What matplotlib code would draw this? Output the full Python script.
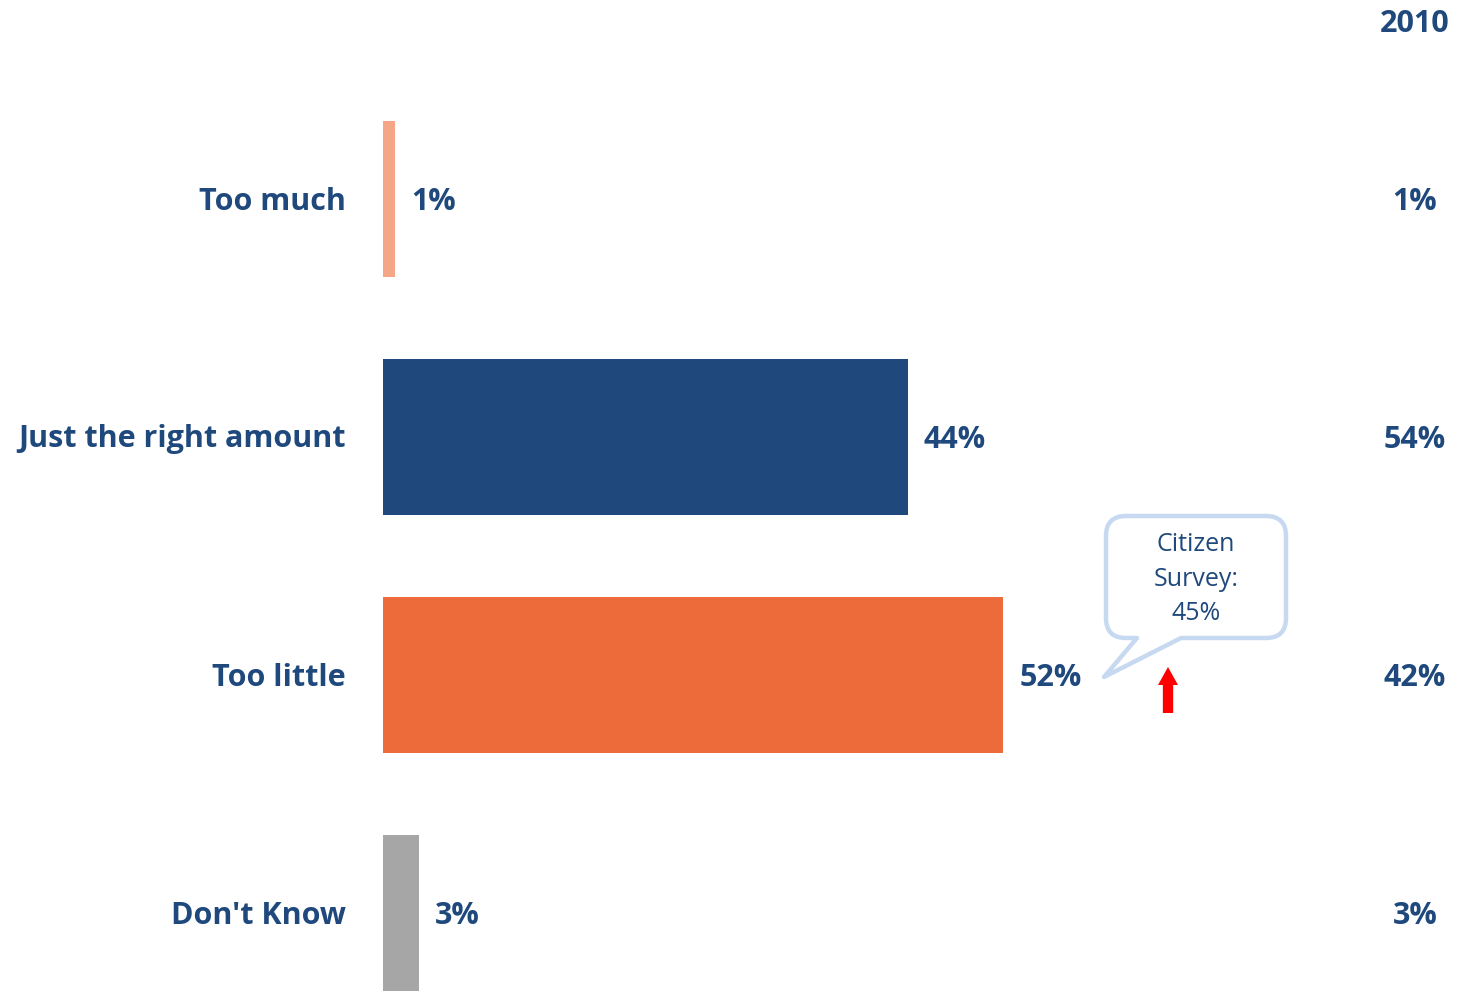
import numpy as np
import matplotlib.pyplot as plt
from matplotlib.path import Path
from matplotlib.patches import PathPatch, FancyArrow

plt.rcParams["font.family"] = ["Open Sans", "DejaVu Sans"]

categories = ["Too much", "Just the right amount", "Too little", "Don't Know"]
values_now = [1, 44, 52, 3]
values_2010 = [1, 54, 42, 3]
bar_colors = ["#F4A686", "#1F497D", "#ED6A3A", "#A6A6A6"]
callout_text = "Citizen\nSurvey:\n45%"

W, H = 1460, 991
navy = "#1F497D"
fs = 22

fig = plt.figure(figsize=(W / 100, H / 100), dpi=100)


def fx(x):
    return x / W


def fy(y):
    return 1 - y / H


# axes begins where the bars start; 1% ~ 11.93 px
x0 = 383
px_per = 11.93
ax = fig.add_axes([fx(x0), 0, 1 - fx(x0), 1])
ax.set_xlim(0, (W - x0) / px_per)
y_first, step = 199, 238
ax.set_ylim((H - y_first) / step, -y_first / step)
ax.axis("off")

ypos = np.arange(len(categories))
ax.barh(ypos, values_now, height=156 / step, color=bar_colors, left=0)

dy = -2.5 * 0.72  # nudge text down a little
for i, (cat, v, v10) in enumerate(zip(categories, values_now, values_2010)):
    ax.annotate(cat, (0, i), xytext=(-37 * 0.72, dy), textcoords="offset points",
                ha="right", va="center", fontsize=fs, fontweight="bold",
                color=navy, annotation_clip=False)
    ax.annotate(f"{v}%", (v, i), xytext=(16 * 0.72, dy), textcoords="offset points",
                ha="left", va="center", fontsize=fs, fontweight="bold",
                color=navy, annotation_clip=False)
    yrow = fig.transFigure.inverted().transform(ax.transData.transform((0, i)))[1]
    fig.text(fx(1415), yrow - 2.5 / H, f"{v10}%",
             ha="center", va="center", fontsize=fs, fontweight="bold", color=navy)

fig.text(fx(1415), fy(24), "2010", ha="center", va="center", fontsize=fs,
         fontweight="bold", color=navy)

# speech bubble with tail
L, R, T, B, r = 1106, 1286, 516, 638, 20
pts = [
    (L + r, T), (R - r, T), (R, T), (R, T + r), (R, B - r), (R, B), (R - r, B),
    (1181, B), (1104, 677), (1137, B),
    (L + r, B), (L, B), (L, B - r), (L, T + r), (L, T), (L + r, T),
]
codes = [Path.MOVETO, Path.LINETO, Path.CURVE3, Path.CURVE3, Path.LINETO,
         Path.CURVE3, Path.CURVE3, Path.LINETO, Path.LINETO, Path.LINETO,
         Path.LINETO, Path.CURVE3, Path.CURVE3, Path.LINETO, Path.CURVE3,
         Path.CURVE3]
verts = [(fx(x), fy(y)) for x, y in pts]
bubble = PathPatch(Path(verts, codes), transform=fig.transFigure,
                   facecolor="white", edgecolor="#C6D9F1", linewidth=3.2,
                   joinstyle="round")
fig.add_artist(bubble)
fig.text(fx(1196), fy(579), callout_text, ha="center", va="center",
         fontsize=18, color=navy, linespacing=1.5)

# red up arrow
arrow = FancyArrow(fx(1168), fy(713), 0, fy(667) - fy(713),
                   width=7 / H, head_width=20 / W, head_length=18 / H,
                   length_includes_head=True, transform=fig.transFigure,
                   color="#FF0000", linewidth=0)
fig.add_artist(arrow)

fig.savefig("out.png", dpi=100)
